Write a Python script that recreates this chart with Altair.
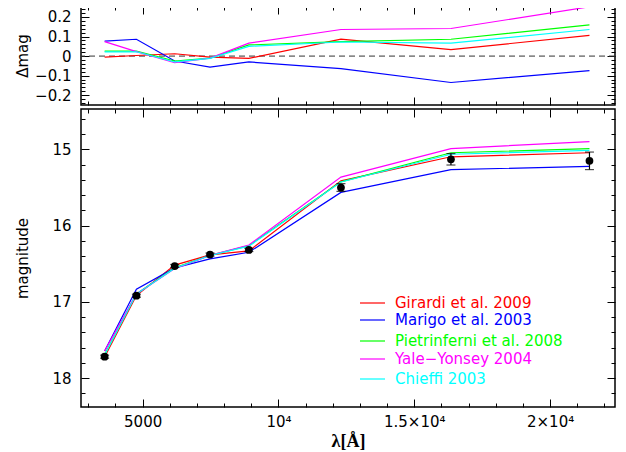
import altair as alt
import pandas as pd

# ---------------- data ----------------
wavelength = [3600, 4770, 6180, 7480, 8910, 12300, 16350, 21450]
obs_mag = [17.72, 16.92, 16.53, 16.38, 16.32, 15.50, 15.13, 15.15]
obs_err = [0.02, 0.02, 0.02, 0.02, 0.02, 0.05, 0.075, 0.115]

model_names = ["Girardi et al. 2009", "Marigo et al. 2003", "Pietrinferni et al. 2008",
               "Yale\u2212Yonsey 2004", "Chieffi 2003"]
model_colors = ["#ff0000", "#0000ff", "#00ff00", "#ff00ff", "#00ffff"]

# residuals (observed - model), top panel
delta_girardi = [-0.005, 0.003, 0.012, -0.005, -0.012, 0.087, 0.033, 0.106]
delta_marigo = [0.076, 0.086, -0.025, -0.056, -0.030, -0.064, -0.135, -0.074]
delta_pietrinferni = [0.025, 0.025, -0.025, -0.010, 0.057, 0.074, 0.086, 0.160]
delta_yale = [0.074, 0.023, -0.034, -0.010, 0.066, 0.136, 0.141, 0.252]
delta_chieffi = [0.022, 0.022, -0.030, -0.012, 0.050, 0.072, 0.066, 0.136]

# model magnitudes, bottom panel
mag_girardi = [17.725, 16.917, 16.518, 16.385, 16.332, 15.413, 15.097, 15.044]
mag_marigo = [17.644, 16.834, 16.555, 16.436, 16.350, 15.564, 15.265, 15.224]
mag_pietrinferni = [17.695, 16.895, 16.555, 16.390, 16.263, 15.426, 15.044, 14.990]
mag_yale = [17.646, 16.897, 16.564, 16.390, 16.254, 15.364, 14.989, 14.898]
mag_chieffi = [17.698, 16.898, 16.560, 16.392, 16.270, 15.428, 15.064, 15.014]

x_major = [5000, 10000, 15000, 20000]
x_major_labels = ["5000", "10\u2074", "1.5\u00d710\u2074", "2\u00d710\u2074"]
x_minor = [3000, 4000, 6000, 7000, 8000, 9000, 11000, 12000, 13000, 14000,
           16000, 17000, 18000, 19000, 21000, 22000]
yt_major = [-0.2, -0.1, 0, 0.1, 0.2]
yt_minor = [-0.24, -0.22, -0.18, -0.16, -0.14, -0.12, -0.08, -0.06, -0.04, -0.02,
            0.02, 0.04, 0.06, 0.08, 0.12, 0.14, 0.16, 0.18, 0.22, 0.24]
yb_major = [15, 16, 17, 18]
yb_minor = [14.6, 14.8, 15.2, 15.4, 15.6, 15.8, 16.2, 16.4, 16.6, 16.8,
            17.2, 17.4, 17.6, 17.8, 18.2]

# ---------------- tables ----------------
deltas = [delta_girardi, delta_marigo, delta_pietrinferni, delta_yale, delta_chieffi]
mags = [mag_girardi, mag_marigo, mag_pietrinferni, mag_yale, mag_chieffi]
rows = []
for k, (name, dl, ml) in enumerate(zip(model_names, deltas, mags)):
    for wl, dv, mv in zip(wavelength, dl, ml):
        rows.append({"model": name, "k": k, "wl": wl, "delta": dv, "mag": mv})
models_df = pd.DataFrame(rows)
obs_df = pd.DataFrame({"wl": wavelength, "mag": obs_mag, "err": obs_err})

# ---------------- layout ----------------
W = 534
HT = 99
HB = 298
FONT = "DejaVu Sans"

xs = alt.Scale(domain=[2730, 22390], nice=False, zero=False)
yts = alt.Scale(domain=[-0.25, 0.256], nice=False, zero=False)
ybs = alt.Scale(domain=[14.47, 18.38], nice=False, zero=False, reverse=True)
cs = alt.Scale(domain=model_names, range=model_colors)

label_expr = " : ".join(
    f"datum.value == {v} ? '{t}'" for v, t in zip(x_major, x_major_labels)
) + " : ''"


def tick_axis(orient, offset, values, size):
    return alt.Axis(orient=orient, offset=offset, values=values, labels=False,
                    ticks=True, tickSize=size, tickWidth=1, tickColor="black",
                    domain=False, grid=False, title=None)


def carrier(ycol, yscale, xaxis, yaxis):
    # invisible, tiny marks that only carry an axis
    return alt.Chart(models_df).mark_point(opacity=0, size=1).encode(
        x=alt.X("wl:Q", scale=xs, axis=xaxis),
        y=alt.Y(f"{ycol}:Q", scale=yscale, axis=yaxis),
    )


def inward_ticks(ycol, yscale, H, ymaj, ymin):
    return [
        carrier(ycol, yscale, tick_axis("top", -H, x_major, 8), tick_axis("right", -W, ymaj, 8)),
        carrier(ycol, yscale, tick_axis("bottom", -H, x_major, 8), tick_axis("left", -W, ymaj, 8)),
        carrier(ycol, yscale, tick_axis("top", -H, x_minor, 4), tick_axis("right", -W, ymin, 4)),
        carrier(ycol, yscale, tick_axis("bottom", -H, x_minor, 4), tick_axis("left", -W, ymin, 4)),
    ]


# ---------- top panel ----------
top_labels = carrier(
    "delta", yts, None,
    alt.Axis(orient="left", values=yt_major, format="~g", ticks=False, domain=False,
             grid=False, labelPadding=10, title="\u0394mag", titleX=-59, titleY=HT / 2,
             titleBaseline="middle", titleAngle=-90),
)
zero_line = alt.Chart(pd.DataFrame({"z": [0]})).mark_rule(
    color="#333333", strokeDash=[6, 4], strokeWidth=1
).encode(y=alt.Y("z:Q", scale=yts, axis=None))
top_lines = alt.Chart(models_df).mark_line(strokeWidth=1.2, clip=True).encode(
    x=alt.X("wl:Q", scale=xs, axis=None),
    y=alt.Y("delta:Q", scale=yts, axis=None),
    color=alt.Color("model:N", scale=cs, legend=None),
    detail="k:N",
    order="wl:Q",
)
top = alt.layer(
    top_labels, *inward_ticks("delta", yts, HT, yt_major, yt_minor), zero_line, top_lines
).resolve_axis(x="independent", y="independent").properties(width=W, height=HT)

# ---------- bottom panel ----------
bot_labels = carrier(
    "mag", ybs,
    alt.Axis(orient="bottom", values=x_major, labelExpr=label_expr, ticks=False,
             domain=False, grid=False, labelPadding=7, title="\u03bb[\u00c5]",
             titleFont="Liberation Serif", titleFontWeight="bold", titleFontSize=18,
             titlePadding=3),
    alt.Axis(orient="left", values=yb_major, format="d", ticks=False, domain=False,
             grid=False, labelPadding=10, title="magnitude", titleX=-59, titleY=HB / 2,
             titleBaseline="middle", titleAngle=-90),
)
bot_lines = alt.Chart(models_df).mark_line(strokeWidth=1.2, clip=True).encode(
    x=alt.X("wl:Q", scale=xs, axis=None),
    y=alt.Y("mag:Q", scale=ybs, axis=None),
    color=alt.Color("model:N", scale=cs, legend=None),
    detail="k:N",
    order="wl:Q",
)
obs_base = alt.Chart(obs_df).transform_calculate(
    lo="datum.mag - datum.err", hi="datum.mag + datum.err"
)
err_rule = obs_base.mark_rule(color="black", strokeWidth=1.2).encode(
    x=alt.X("wl:Q", scale=xs, axis=None),
    y=alt.Y("lo:Q", scale=ybs, axis=None),
    y2="hi:Q",
)
cap_lo = obs_base.mark_tick(color="black", orient="horizontal", size=9, thickness=1.2).encode(
    x=alt.X("wl:Q", scale=xs, axis=None),
    y=alt.Y("lo:Q", scale=ybs, axis=None),
)
cap_hi = obs_base.mark_tick(color="black", orient="horizontal", size=9, thickness=1.2).encode(
    x=alt.X("wl:Q", scale=xs, axis=None),
    y=alt.Y("hi:Q", scale=ybs, axis=None),
)
obs_pts = alt.Chart(obs_df).mark_circle(size=60, color="black", opacity=1).encode(
    x=alt.X("wl:Q", scale=xs, axis=None),
    y=alt.Y("mag:Q", scale=ybs, axis=None),
)

legend_rows_y = [194, 211, 232, 250, 270]
legend_layers = []
for name, col, yy in zip(model_names, model_colors, legend_rows_y):
    one = alt.Chart(pd.DataFrame({"t": [name]}))
    legend_layers.append(
        one.mark_rule(color=col, strokeWidth=1.2).encode(
            x=alt.value(279), x2=alt.value(304), y=alt.value(yy)
        )
    )
    legend_layers.append(
        one.mark_text(align="left", baseline="middle", font=FONT, fontSize=15, color=col).encode(
            x=alt.value(314), y=alt.value(yy), text="t:N"
        )
    )

bottom = alt.layer(
    bot_labels, *inward_ticks("mag", ybs, HB, yb_major, yb_minor),
    bot_lines, err_rule, cap_lo, cap_hi, obs_pts, *legend_layers
).resolve_axis(x="independent", y="independent").properties(width=W, height=HB)

chart = alt.vconcat(top, bottom, spacing=0).properties(
    padding={"left": 6, "top": -4, "right": 0, "bottom": 0}
).configure_view(
    stroke="black", strokeWidth=1.5
).configure_axis(
    labelFont=FONT, labelFontSize=15, labelColor="black",
    titleFont=FONT, titleFontSize=15, titleColor="black", titleFontWeight="normal",
)

chart.save("out.html", embed_options={"renderer": "svg", "actions": False})
